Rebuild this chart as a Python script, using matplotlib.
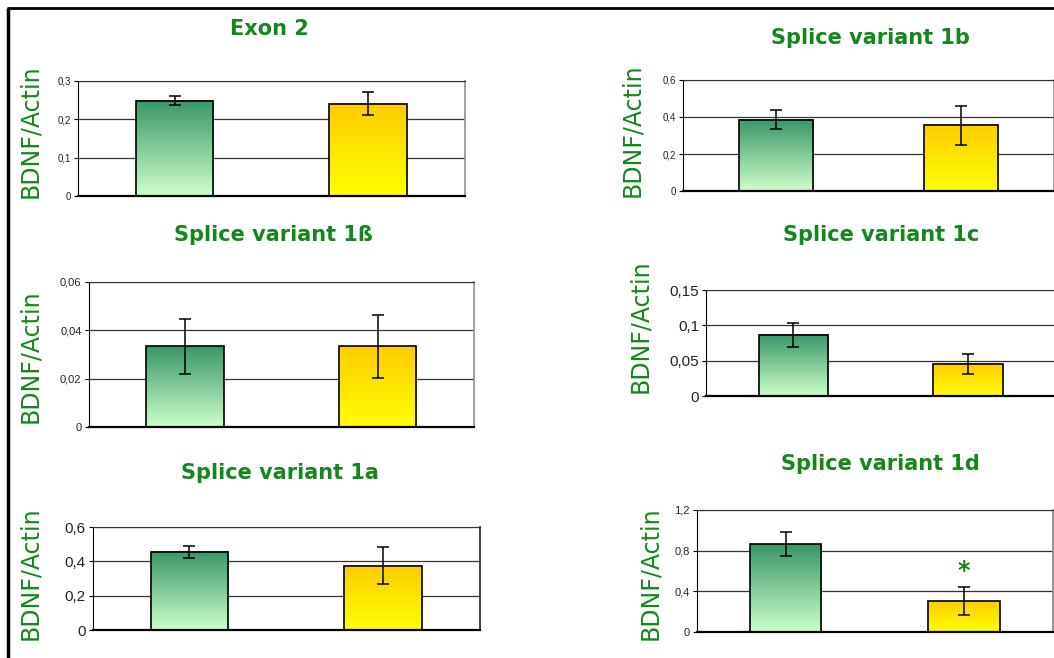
import numpy as np
import matplotlib
matplotlib.use("Agg")
import matplotlib.pyplot as plt
from matplotlib.colors import to_rgb
from matplotlib.lines import Line2D

# данные
titles = ["Exon 2", "Splice variant 1b", "Splice variant 1ß",
          "Splice variant 1c", "Splice variant 1a", "Splice variant 1d"]
control_means = [0.248, 0.385, 0.0333, 0.087, 0.455, 0.865]
control_err = [0.012, 0.05, 0.0113, 0.017, 0.035, 0.115]
treated_means = [0.240, 0.355, 0.0333, 0.046, 0.375, 0.300]
treated_err = [0.030, 0.105, 0.013, 0.014, 0.107, 0.137]
y_max = [0.3, 0.6, 0.06, 0.15, 0.6, 1.2]
y_step = [0.1, 0.2, 0.02, 0.05, 0.2, 0.4]
significant = [False, False, False, False, False, True]  # звёздочка над второй колонкой

GREEN_TXT = '#12881a'
grad_green = ('#ccffcc', '#399768')   # низ -> верх
grad_yellow = ('#ffff00', '#ffcc00')

# положение осей в долях фигуры [left, bottom, width, height]
axes_pos = [
    [0.074, 0.702, 0.367, 0.175],
    [0.648, 0.709, 0.352, 0.170],
    [0.084, 0.351, 0.366, 0.221],
    [0.670, 0.398, 0.331, 0.161],
    [0.088, 0.042, 0.367, 0.157],
    [0.661, 0.040, 0.338, 0.185],
]
tick_sizes = [7, 7, 8, 11, 11, 8]
title_xy = [(0.256, 0.956), (0.826, 0.942), (0.259, 0.643), (0.836, 0.643), (0.266, 0.281), (0.835, 0.295)]
ylabel_xy = [(0.029, 0.80), (0.600, 0.802), (0.029, 0.459), (0.607, 0.505), (0.029, 0.129), (0.617, 0.129)]
border_colors = ['#909090', '#909090', '#909090', '#202020', '#202020', '#808080']


def gradient_bar(ax, bar, c_bottom, c_top):
    x0 = bar.get_x()
    x1 = x0 + bar.get_width()
    h = bar.get_height()
    t = np.linspace(0, 1, 128)[:, None]
    cb = np.array(to_rgb(c_bottom))
    ct = np.array(to_rgb(c_top))
    img = (cb[None, :] * (1 - t) + ct[None, :] * t)[:, None, :]
    ax.imshow(img, extent=[x0, x1, 0, h], origin='lower', aspect='auto',
              zorder=1.5, interpolation='bilinear')


fig = plt.figure(figsize=(10.54, 6.58), dpi=100)

for i in range(6):
    ax = fig.add_axes(axes_pos[i])
    means = [control_means[i], treated_means[i]]
    errs = [control_err[i], treated_err[i]]
    xs = [0, 1]
    bars = ax.bar(xs, means, width=0.4, fill=False, edgecolor='black',
                  linewidth=1.2, zorder=2)
    gradient_bar(ax, bars[0], *grad_green)
    gradient_bar(ax, bars[1], *grad_yellow)
    ax.errorbar(xs, means, yerr=errs, fmt='none', ecolor='black',
                elinewidth=1.1, capsize=4.5, capthick=1.1, zorder=3)

    n = int(round(y_max[i] / y_step[i]))
    ticks = np.linspace(0, y_max[i], n + 1)
    ax.set_yticks(ticks)
    ax.set_yticklabels([f"{v:g}".replace('.', ',') for v in ticks],
                       fontsize=tick_sizes[i], family='Liberation Sans', color='#222222')
    ax.set_xticks([])
    ax.set_xlim(-0.5, 1.5)
    ax.set_ylim(0, y_max[i])
    ax.yaxis.grid(True, color='#333333', linewidth=0.9)
    ax.set_axisbelow(True)
    ax.tick_params(axis='y', length=3, width=0.8, pad=2)

    ax.spines['left'].set_color('black')
    ax.spines['bottom'].set_color('black')
    ax.spines['bottom'].set_linewidth(1.6)
    ax.spines['top'].set_color('#333333')
    ax.spines['right'].set_color(border_colors[i])
    ax.spines['right'].set_linewidth(1.2)

    if significant[i]:
        ax.text(1, treated_means[i] + treated_err[i] + 0.04, '*', ha='center', va='bottom',
                fontsize=17, fontweight='bold', color=GREEN_TXT)

    fig.text(title_xy[i][0], title_xy[i][1], titles[i], ha='center', va='center',
             fontsize=15, fontweight='bold', color=GREEN_TXT)
    fig.text(ylabel_xy[i][0], ylabel_xy[i][1], 'BDNF/Actin', ha='center', va='center',
             rotation=90, fontsize=17, color=GREEN_TXT)

# рамка слева и сверху
fig.add_artist(Line2D([0.0075, 0.0075], [0.0, 0.988], color='black', linewidth=2.5,
                      transform=fig.transFigure, solid_capstyle='butt'))
fig.add_artist(Line2D([0.0063, 1.0], [0.988, 0.988], color='black', linewidth=2,
                      transform=fig.transFigure, solid_capstyle='butt'))

fig.savefig('out.png', dpi=100)
